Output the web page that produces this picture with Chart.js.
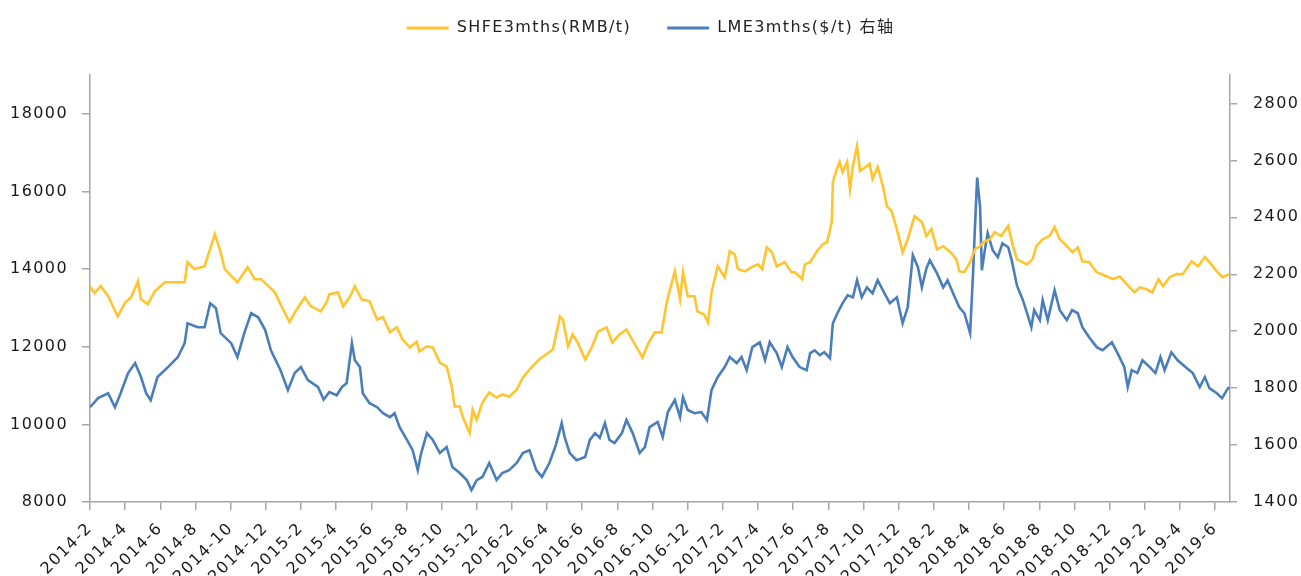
<!DOCTYPE html>
<html>
<head>
<meta charset="utf-8">
<title>SHFE vs LME 3mths</title>
<script src="https://cdn.jsdelivr.net/npm/chart.js@4.4.1/dist/chart.umd.min.js"></script>
<style>
    html, body { margin: 0; padding: 0; background: #ffffff; }
    #wrap { width: 1301px; height: 576px; }
</style>
</head>
<body>
<div id="wrap"><canvas id="priceChart" width="1301" height="576"></canvas></div>
<script>

// =========================================
// DATA
// =========================================

var seriesNames = ["SHFE3mths(RMB/t)", "LME3mths($/t) 右轴"];

var xTickLabels = [
    "2014-2", "2014-4", "2014-6", "2014-8", "2014-10", "2014-12",
    "2015-2", "2015-4", "2015-6", "2015-8", "2015-10", "2015-12",
    "2016-2", "2016-4", "2016-6", "2016-8", "2016-10", "2016-12",
    "2017-2", "2017-4", "2017-6", "2017-8", "2017-10", "2017-12",
    "2018-2", "2018-4", "2018-6", "2018-8", "2018-10", "2018-12",
    "2019-2", "2019-4", "2019-6"
];

var leftTicks = [8000, 10000, 12000, 14000, 16000, 18000];
var rightTicks = [1400, 1600, 1800, 2000, 2200, 2400, 2600, 2800];

var shfeDates = [
    "2014-02-01", "2014-02-08", "2014-02-18", "2014-03-02", "2014-03-19", "2014-04-01", "2014-04-11", "2014-04-23",
    "2014-04-28", "2014-05-10", "2014-05-22", "2014-06-09", "2014-06-26", "2014-07-13", "2014-07-18", "2014-07-30",
    "2014-08-17", "2014-09-04", "2014-09-14", "2014-09-21", "2014-10-13", "2014-10-31", "2014-11-12", "2014-11-23",
    "2014-12-17", "2014-12-27", "2015-01-12", "2015-01-21", "2015-02-07", "2015-02-17", "2015-03-05", "2015-03-15",
    "2015-03-20", "2015-04-04", "2015-04-13", "2015-04-25", "2015-05-03", "2015-05-15", "2015-05-29", "2015-06-11",
    "2015-06-21", "2015-07-03", "2015-07-15", "2015-07-25", "2015-08-07", "2015-08-19", "2015-08-24", "2015-09-06",
    "2015-09-16", "2015-09-28", "2015-10-10", "2015-10-19", "2015-10-24", "2015-11-02", "2015-11-07", "2015-11-14",
    "2015-11-19", "2015-11-24", "2015-12-01", "2015-12-11", "2015-12-23", "2016-01-05", "2016-01-15", "2016-01-27",
    "2016-02-09", "2016-02-19", "2016-03-01", "2016-03-18", "2016-03-30", "2016-04-11", "2016-04-23", "2016-04-28",
    "2016-05-07", "2016-05-15", "2016-05-24", "2016-06-06", "2016-06-18", "2016-06-28", "2016-07-13", "2016-07-23",
    "2016-08-05", "2016-08-17", "2016-09-01", "2016-09-14", "2016-09-23", "2016-10-05", "2016-10-17", "2016-10-26",
    "2016-10-31", "2016-11-09", "2016-11-18", "2016-11-23", "2016-12-01", "2016-12-13", "2016-12-18", "2016-12-30",
    "2017-01-06", "2017-01-12", "2017-01-23", "2017-02-04", "2017-02-12", "2017-02-20", "2017-02-25", "2017-03-09",
    "2017-03-21", "2017-04-01", "2017-04-08", "2017-04-16", "2017-04-25", "2017-05-03", "2017-05-17", "2017-05-29",
    "2017-06-04", "2017-06-16", "2017-06-21", "2017-06-30", "2017-07-12", "2017-07-22", "2017-07-30", "2017-08-07",
    "2017-08-09", "2017-08-16", "2017-08-21", "2017-08-26", "2017-09-03", "2017-09-08", "2017-09-13", "2017-09-20",
    "2017-09-25", "2017-09-30", "2017-10-12", "2017-10-17", "2017-10-26", "2017-11-04", "2017-11-11", "2017-11-19",
    "2017-11-28", "2017-12-08", "2017-12-17", "2017-12-29", "2018-01-11", "2018-01-19", "2018-01-28", "2018-02-06",
    "2018-02-16", "2018-02-28", "2018-03-10", "2018-03-15", "2018-03-24", "2018-04-03", "2018-04-11", "2018-04-20",
    "2018-04-25", "2018-05-07", "2018-05-15", "2018-05-27", "2018-06-08", "2018-06-16", "2018-06-23", "2018-07-10",
    "2018-07-20", "2018-07-27", "2018-08-07", "2018-08-19", "2018-08-28", "2018-09-06", "2018-09-18", "2018-09-28",
    "2018-10-07", "2018-10-15", "2018-10-27", "2018-11-09", "2018-11-26", "2018-12-07", "2018-12-19", "2018-12-31",
    "2019-01-14", "2019-01-23", "2019-02-04", "2019-02-13", "2019-02-23", "2019-03-02", "2019-03-14", "2019-03-26",
    "2019-04-06", "2019-04-21", "2019-05-02", "2019-05-14", "2019-05-22", "2019-06-04", "2019-06-14", "2019-06-25"
];

var shfeValues = [
    13560, 13380, 13560, 13300, 12780, 13140, 13270, 13690,
    13220, 13090, 13430, 13660, 13660, 13660, 14180, 14000,
    14070, 14900, 14430, 14000, 13660, 14050, 13740, 13740,
    13400, 13090, 12630, 12880, 13270, 13040, 12910, 13140,
    13350, 13400, 13040, 13300, 13560, 13220, 13170, 12700,
    12760, 12370, 12500, 12190, 11980, 12130, 11880, 12010,
    11980, 11590, 11490, 10970, 10460, 10460, 10200, 9940,
    9780, 10380, 10120, 10560, 10820, 10690, 10770, 10710,
    10890, 11200, 11410, 11670, 11800, 11930, 12780, 12700,
    12010, 12320, 12110, 11670, 12010, 12390, 12500, 12110,
    12320, 12440, 12060, 11720, 12060, 12370, 12370, 13140,
    13430, 13940, 13220, 13920, 13300, 13300, 12910, 12830,
    12630, 13400, 14070, 13790, 14460, 14380, 14000, 13940,
    14050, 14120, 14000, 14560, 14430, 14070, 14180, 13920,
    13920, 13740, 14120, 14180, 14460, 14640, 14690, 15210,
    16240, 16580, 16760, 16500, 16760, 16060, 16660, 17170,
    16530, 16580, 16710, 16320, 16630, 16140, 15620, 15490,
    15030, 14430, 14770, 15360, 15210, 14850, 15030, 14510,
    14590, 14430, 14250, 13940, 13920, 14180, 14510, 14590,
    14690, 14770, 14950, 14850, 15110, 14600, 14250, 14120,
    14250, 14590, 14770, 14850, 15080, 14770, 14590, 14430,
    14560, 14200, 14180, 13920, 13810, 13740, 13810, 13610,
    13400, 13530, 13480, 13400, 13740, 13560, 13790, 13870,
    13870, 14200, 14070, 14310, 14180, 13940, 13790, 13870
];

var lmeDates = [
    "2014-02-01", "2014-02-14", "2014-03-02", "2014-03-14", "2014-03-24", "2014-04-06", "2014-04-18", "2014-04-28",
    "2014-05-07", "2014-05-15", "2014-05-27", "2014-06-14", "2014-07-01", "2014-07-13", "2014-07-18", "2014-08-05",
    "2014-08-17", "2014-08-27", "2014-09-06", "2014-09-14", "2014-10-02", "2014-10-13", "2014-10-25", "2014-11-06",
    "2014-11-18", "2014-11-30", "2014-12-10", "2014-12-27", "2015-01-09", "2015-01-21", "2015-02-01", "2015-02-12",
    "2015-02-28", "2015-03-10", "2015-03-20", "2015-04-02", "2015-04-11", "2015-04-19", "2015-04-28", "2015-05-03",
    "2015-05-12", "2015-05-17", "2015-05-29", "2015-06-11", "2015-06-21", "2015-07-03", "2015-07-11", "2015-07-20",
    "2015-08-02", "2015-08-12", "2015-08-21", "2015-08-27", "2015-09-06", "2015-09-16", "2015-09-28", "2015-10-10",
    "2015-10-20", "2015-11-02", "2015-11-14", "2015-11-22", "2015-12-01", "2015-12-11", "2015-12-23", "2016-01-05",
    "2016-01-15", "2016-01-27", "2016-02-09", "2016-02-19", "2016-03-01", "2016-03-13", "2016-03-23", "2016-04-05",
    "2016-04-16", "2016-04-26", "2016-05-01", "2016-05-10", "2016-05-22", "2016-06-06", "2016-06-14", "2016-06-23",
    "2016-07-01", "2016-07-10", "2016-07-18", "2016-07-27", "2016-08-09", "2016-08-17", "2016-08-28", "2016-09-09",
    "2016-09-18", "2016-09-26", "2016-10-10", "2016-10-19", "2016-10-28", "2016-11-09", "2016-11-18", "2016-11-23",
    "2016-12-01", "2016-12-13", "2016-12-25", "2017-01-04", "2017-01-12", "2017-01-23", "2017-02-04", "2017-02-12",
    "2017-02-23", "2017-03-03", "2017-03-12", "2017-03-22", "2017-04-04", "2017-04-13", "2017-04-21", "2017-05-03",
    "2017-05-12", "2017-05-22", "2017-05-31", "2017-06-12", "2017-06-24", "2017-06-30", "2017-07-08", "2017-07-17",
    "2017-07-25", "2017-08-04", "2017-08-09", "2017-08-17", "2017-08-26", "2017-09-04", "2017-09-13", "2017-09-20",
    "2017-09-28", "2017-10-07", "2017-10-17", "2017-10-26", "2017-11-04", "2017-11-16", "2017-11-28", "2017-12-08",
    "2017-12-17", "2017-12-26", "2018-01-04", "2018-01-11", "2018-01-19", "2018-01-25", "2018-02-06", "2018-02-16",
    "2018-02-23", "2018-03-04", "2018-03-15", "2018-03-24", "2018-04-03", "2018-04-08", "2018-04-11", "2018-04-15",
    "2018-04-20", "2018-04-23", "2018-04-28", "2018-05-03", "2018-05-12", "2018-05-21", "2018-05-29", "2018-06-08",
    "2018-06-14", "2018-06-23", "2018-07-03", "2018-07-11", "2018-07-18", "2018-07-23", "2018-08-02", "2018-08-07",
    "2018-08-16", "2018-08-28", "2018-09-06", "2018-09-18", "2018-09-27", "2018-10-07", "2018-10-15", "2018-10-27",
    "2018-11-09", "2018-11-19", "2018-12-05", "2018-12-15", "2018-12-27", "2019-01-02", "2019-01-09", "2019-01-19",
    "2019-01-28", "2019-02-09", "2019-02-18", "2019-02-26", "2019-03-05", "2019-03-17", "2019-03-28", "2019-04-13",
    "2019-04-23", "2019-05-05", "2019-05-14", "2019-05-22", "2019-06-04", "2019-06-13", "2019-06-21", "2019-06-25"
];

var lmeValues = [
    1733, 1765, 1782, 1733, 1782, 1853, 1888, 1839,
    1782, 1758, 1839, 1874, 1909, 1958, 2028, 2014,
    2014, 2098, 2081, 1993, 1958, 1909, 1993, 2063,
    2049, 2004, 1933, 1863, 1793, 1853, 1874, 1828,
    1804, 1760, 1786, 1775, 1804, 1818, 1958, 1898,
    1874, 1782, 1747, 1733, 1712, 1698, 1712, 1663,
    1618, 1582, 1512, 1572, 1642, 1618, 1572, 1593,
    1523, 1502, 1477, 1442, 1477, 1488, 1537, 1477,
    1502, 1512, 1537, 1572, 1582, 1512, 1488, 1537,
    1600, 1677, 1628, 1572, 1547, 1558, 1618, 1642,
    1625, 1677, 1618, 1607, 1642, 1688, 1642, 1572,
    1593, 1663, 1681, 1628, 1716, 1758, 1698, 1768,
    1723, 1712, 1716, 1688, 1793, 1839, 1874, 1909,
    1888, 1909, 1863, 1944, 1961, 1898, 1961, 1923,
    1874, 1944, 1909, 1874, 1863, 1923, 1933, 1916,
    1926, 1905, 2028, 2063, 2098, 2126, 2119, 2179,
    2119, 2154, 2133, 2179, 2144, 2098, 2119, 2028,
    2084, 2267, 2225, 2154, 2221, 2249, 2204, 2154,
    2179, 2133, 2084, 2063, 1993, 2204, 2354, 2540,
    2435, 2214, 2284, 2344, 2284, 2260, 2309, 2295,
    2249, 2160, 2110, 2060, 2014, 2074, 2039, 2109,
    2039, 2144, 2074, 2039, 2074, 2063, 2014, 1979,
    1944, 1933, 1961, 1923, 1874, 1804, 1863, 1853,
    1898, 1874, 1853, 1909, 1863, 1926, 1898, 1870,
    1853, 1804, 1839, 1800, 1782, 1765, 1793, 1804
];

// =========================================
// HELPERS
// =========================================

// months since 2014-02 (fractional)
function monthPos(str) {
    var p = str.split("-");
    var y = parseInt(p[0], 10);
    var m = parseInt(p[1], 10);
    var d = p.length > 2 ? parseInt(p[2], 10) : 1;
    var days = new Date(y, m, 0).getDate();
    return (y - 2014) * 12 + (m - 2) + (d - 1) / days;
}

function toPoints(dates, values) {
    return dates.map(function (d, i) {
        return { x: monthPos(d), y: values[i] };
    });
}

var tickPositions = xTickLabels.map(function (l) { return monthPos(l); });

var FONT = "'DejaVu Sans', 'Noto Sans CJK SC', sans-serif";
var AXIS_GREY = "#a6a6a6";

// legend block height + wide letter spacing like the original
var layoutTweaks = {
    id: "layoutTweaks",
    beforeInit: function (chart) {
        if (!chart.legend) return;
        var origFit = chart.legend.fit;
        chart.legend.fit = function () {
            origFit.call(this);
            this.height = 91;
        };
    },
    beforeUpdate: function (chart) {
        chart.ctx.letterSpacing = "1.4px";
    },
    beforeDraw: function (chart) {
        chart.ctx.letterSpacing = "1.4px";
    }
};

// =========================================
// CHART
// =========================================

var ctx = document.getElementById("priceChart");

new Chart(ctx, {

    type: "line",

    data: {
        datasets: [{
            label: seriesNames[0],
            data: toPoints(shfeDates, shfeValues),
            borderColor: "#FFC42E",
            backgroundColor: "#FFC42E",
            borderWidth: 2.6,
            pointRadius: 0,
            tension: 0,
            yAxisID: "y"
        }, {
            label: seriesNames[1],
            data: toPoints(lmeDates, lmeValues),
            borderColor: "#4A7EBB",
            backgroundColor: "#4A7EBB",
            borderWidth: 2.6,
            pointRadius: 0,
            tension: 0,
            yAxisID: "y1"
        }]
    },

    options: {
        responsive: false,
        animation: false,
        devicePixelRatio: 1,
        layout: { padding: { top: -16, left: 0, right: 0, bottom: 0 } },

        plugins: {
            legend: {
                position: "top",
                labels: {
                    boxWidth: 42,
                    boxHeight: 3,
                    padding: 36,
                    color: "#222",
                    font: { family: FONT, size: 16 },
                    generateLabels: function (chart) {
                        var items = Chart.defaults.plugins.legend.labels.generateLabels(chart);
                        items.forEach(function (it) { it.lineWidth = 0; });
                        return items;
                    }
                }
            },
            tooltip: { enabled: false }
        },

        scales: {
            x: {
                type: "linear",
                min: 0,
                max: 64.85,
                afterBuildTicks: function (scale) {
                    scale.ticks = tickPositions.map(function (v) { return { value: v }; });
                },
                afterFit: function (scale) { scale.height = 74; },
                ticks: {
                    autoSkip: false,
                    minRotation: 45,
                    maxRotation: 45,
                    padding: 9,
                    color: "#1a1a1a",
                    font: { family: FONT, size: 16 },
                    callback: function (value) {
                        var i = tickPositions.indexOf(value);
                        return i >= 0 ? xTickLabels[i] : "";
                    }
                },
                grid: { drawOnChartArea: false, drawTicks: true, tickLength: 8, color: AXIS_GREY, lineWidth: 1.5 },
                border: { color: AXIS_GREY, width: 1.5 }
            },
            y: {
                position: "left",
                min: 8000,
                max: 19000,
                afterBuildTicks: function (scale) {
                    scale.ticks = leftTicks.map(function (v) { return { value: v }; });
                },
                afterFit: function (scale) { scale.width = 90; },
                ticks: {
                    padding: 14,
                    color: "#1a1a1a",
                    font: { family: FONT, size: 16 },
                    callback: function (value) { return String(value); }
                },
                grid: { drawOnChartArea: false, drawTicks: true, tickLength: 8, color: AXIS_GREY, lineWidth: 1.5 },
                border: { color: AXIS_GREY, width: 1.5 }
            },
            y1: {
                position: "right",
                min: 1400,
                max: 2900,
                afterBuildTicks: function (scale) {
                    scale.ticks = rightTicks.map(function (v) { return { value: v }; });
                },
                afterFit: function (scale) { scale.width = 71; },
                ticks: {
                    padding: 16,
                    color: "#1a1a1a",
                    font: { family: FONT, size: 16 },
                    callback: function (value) { return String(value); }
                },
                grid: { drawOnChartArea: false, drawTicks: true, tickLength: 7, color: AXIS_GREY, lineWidth: 1.5 },
                border: { color: AXIS_GREY, width: 1.5 }
            }
        }
    },

    plugins: [layoutTweaks]
});
</script>
</body>
</html>
